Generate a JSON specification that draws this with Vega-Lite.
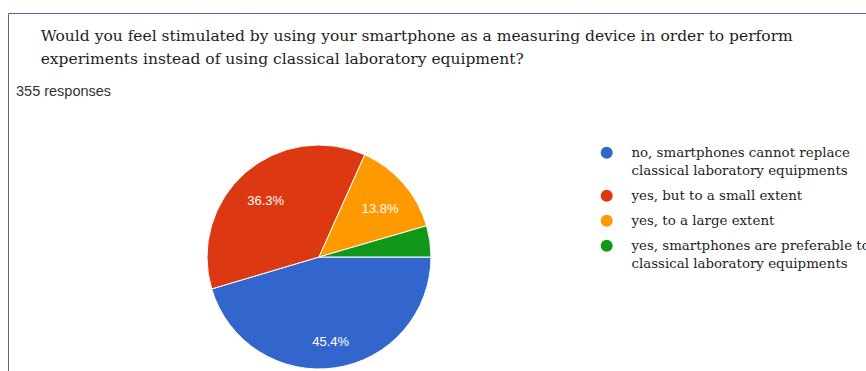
{
  "$schema": "https://vega.github.io/schema/vega-lite/v6.json",
  "width": 224,
  "height": 224,
  "autosize": {"type": "none"},
  "padding": {"left": 207, "top": 145, "right": 435, "bottom": 2},
  "background": "white",
  "title": {
    "text": [
      "\u200b\u00a0\u00a0\u00a0\u00a0\u00a0Would you feel stimulated by using your smartphone as a measuring device in order to perform",
      "\u200b\u00a0\u00a0\u00a0\u00a0\u00a0experiments instead of using classical laboratory equipment?"
    ],
    "subtitle": "355 responses",
    "anchor": "start",
    "frame": "group",
    "dx": -191,
    "offset": -86,
    "font": "DejaVu Serif",
    "fontSize": 15.5,
    "fontWeight": "normal",
    "color": "#1e1e1e",
    "lineHeight": 23,
    "subtitleFont": "Liberation Sans",
    "subtitleFontSize": 14.5,
    "subtitleColor": "#333333",
    "subtitlePadding": 18
  },
  "data": {
    "values": [
      {"answer": "no, smartphones cannot replace\nclassical laboratory equipments", "share": 0.454},
      {"answer": "yes, but to a small extent", "share": 0.363},
      {"answer": "yes, to a large extent", "share": 0.138},
      {"answer": "yes, smartphones are preferable to\nclassical laboratory equipments", "share": 0.045}
    ]
  },
  "encoding": {
    "theta": {
      "field": "share",
      "type": "quantitative",
      "stack": true,
      "scale": {"range": [1.5707963, 7.8539816]}
    },
    "order": {"field": "share", "sort": "descending"}
  },
  "layer": [
    {
      "mark": {"type": "arc", "stroke": "white", "strokeWidth": 1},
      "encoding": {
        "color": {
          "field": "answer",
          "type": "nominal",
          "scale": {
            "domain": [
              "no, smartphones cannot replace\nclassical laboratory equipments",
              "yes, but to a small extent",
              "yes, to a large extent",
              "yes, smartphones are preferable to\nclassical laboratory equipments"
            ],
            "range": ["#3366cc", "#dc3912", "#ff9900", "#109618"]
          },
          "legend": {
            "orient": "none",
            "legendX": -199,
            "legendY": -132,
            "padding": 133,
            "strokeColor": "#5763a0",
            "title": "\u00a0",
            "titleOrient": "left",
            "titleFontSize": 4,
            "titlePadding": 459,
            "symbolType": "circle",
            "symbolSize": 144,
            "symbolStrokeWidth": 0,
            "labelFont": "DejaVu Serif",
            "labelFontSize": 13.4,
            "labelColor": "#1e1e1e",
            "labelLimit": 400,
            "labelOffset": 18,
            "labelBaseline": "alphabetic",
            "labelExpr": "split(datum.label, '\\n')",
            "rowPadding": 10
          }
        }
      }
    },
    {
      "transform": [{"filter": "datum.share > 0.05"}],
      "mark": {"type": "text", "radius": 81, "dy": 5, "font": "Liberation Sans", "fontSize": 13, "color": "white"},
      "encoding": {
        "text": {"field": "share", "type": "quantitative", "format": ".1%"}
      }
    }
  ],
  "config": {
    "style": {
      "guide-label": {"dy": 4, "lineHeight": 18}
    }
  }
}
